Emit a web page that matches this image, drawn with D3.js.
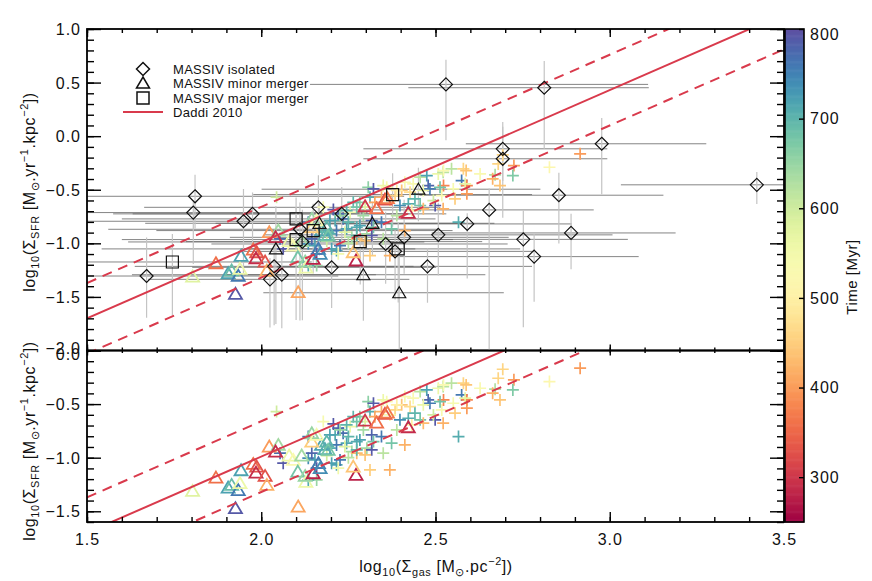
<!DOCTYPE html>
<html>
<head>
<meta charset="utf-8">
<script src="https://cdn.jsdelivr.net/npm/d3@7"></script>
<style>
body { margin: 0; background: #fff; }
text { font-family: "Liberation Sans", Arial, sans-serif; fill: #111; }
</style>
</head>
<body>
<div id="chart"></div>
<script>
// simulation snapshots, minor merger (triangles) : log gas, log sfr, time [Myr]
var triX = [1.803, 1.870, 1.905, 1.915, 1.934, 1.926, 1.942, 1.939, 1.977, 1.987,
    1.985, 2.011, 2.016, 2.023, 2.049, 2.041, 2.080, 2.092, 2.116, 2.105,
    2.128, 2.126, 2.149, 2.164, 2.169, 2.173, 2.183, 2.145, 2.106, 2.272,
    2.264, 2.298, 2.331, 2.355, 2.362, 2.422, 2.145, 2.159, 2.188, 2.192];
var triY = [-1.310, -1.186, -1.279, -1.254, -1.303, -1.471, -1.117, -1.238, -1.058, -1.083,
    -1.139, -1.170, -1.254, -0.896, -0.881, -0.943, -0.980, -1.021, -0.980, -1.130,
    -1.226, -1.170, -1.145, -1.051, -1.098, -0.881, -0.921, -0.850, -1.456, -1.160,
    -1.083, -0.654, -0.672, -0.591, -0.579, -0.716, -0.772, -0.787, -0.850, -0.927];
var triT = [580, 360, 720, 690, 760, 790, 720, 560, 360, 330,
    290, 330, 420, 400, 640, 290, 560, 530, 640, 680,
    560, 650, 280, 760, 740, 720, 710, 450, 410, 280,
    440, 300, 360, 330, 370, 290, 650, 540, 700, 680];

// simulation snapshots (crosses)
var crossX = [2.044, 2.178, 2.207, 2.221, 2.135, 2.054, 2.063, 2.154, 2.159, 2.216,
    2.212, 2.235, 2.255, 2.283, 2.298, 2.274, 2.245, 2.260, 2.274, 2.303,
    2.135, 2.145, 2.159, 2.202, 2.226, 2.221, 2.135, 2.197, 2.216, 2.307,
    2.322, 2.312, 2.350, 2.360, 2.403, 2.412, 2.436, 2.456, 2.475, 2.479,
    2.484, 2.508, 2.522, 2.546, 2.580, 2.575, 2.590, 2.590, 2.556, 2.518,
    2.499, 2.522, 2.456, 2.422, 2.398, 2.384, 2.369, 2.345, 2.326, 2.293,
    2.317, 2.322, 2.283, 2.317, 2.350, 2.374, 2.412, 2.345, 2.312, 2.369,
    2.566, 2.915, 2.693, 2.680, 2.725, 2.827, 2.628, 2.671, 2.722, 2.664,
    2.685, 2.588, 2.585, 2.551, 2.523, 2.523, 2.513, 2.264, 2.274, 2.226,
    2.245, 2.197, 2.250, 2.240, 2.274, 2.298, 2.389, 2.427, 2.465, 2.441,
    2.494, 2.465, 2.389, 2.432, 2.188, 2.250];
var crossY = [-0.570, -0.663, -0.685, -0.725, -0.803, -0.958, -1.051, -1.021, -1.207, -1.067,
    -0.787, -0.771, -0.710, -0.617, -0.663, -0.850, -0.865, -0.943, -0.958, -0.911,
    -1.005, -0.958, -1.098, -1.051, -1.021, -1.098, -1.207, -0.911, -0.881, -0.477,
    -0.492, -0.570, -0.461, -0.477, -0.507, -0.430, -0.445, -0.383, -0.368, -0.461,
    -0.492, -0.352, -0.337, -0.305, -0.305, -0.414, -0.461, -0.538, -0.585, -0.554,
    -0.647, -0.678, -0.647, -0.632, -0.647, -0.554, -0.601, -0.570, -0.617, -0.741,
    -0.787, -0.850, -0.834, -0.927, -0.958, -0.865, -0.881, -0.803, -1.114, -1.114,
    -0.803, -0.165, -0.175, -0.259, -0.274, -0.290, -0.352, -0.361, -0.368, -0.398,
    -0.461, -0.321, -0.445, -0.492, -0.461, -0.321, -0.477, -0.617, -0.663, -0.741,
    -0.694, -0.787, -0.803, -0.896, -0.927, -0.974, -0.507, -0.523, -0.507, -0.585,
    -0.601, -0.678, -0.741, -0.694, -0.980, -1.000];
var crossT = [600, 540, 790, 780, 760, 770, 790, 720, 650, 720,
    710, 770, 560, 660, 580, 710, 720, 640, 430, 640,
    740, 780, 790, 720, 760, 550, 710, 710, 760, 660,
    790, 710, 560, 540, 440, 530, 530, 620, 720, 780,
    760, 560, 620, 620, 460, 760, 380, 400, 450, 530,
    790, 420, 680, 710, 740, 460, 540, 420, 410, 640,
    780, 680, 720, 790, 620, 680, 420, 760, 450, 420,
    710, 400, 460, 460, 400, 520, 530, 630, 670, 420,
    440, 440, 570, 540, 380, 530, 680, 700, 680, 650,
    700, 720, 700, 580, 700, 440, 500, 470, 560, 700,
    600, 430, 620, 500, 600, 620];

// MASSIV isolated (diamonds) with asymmetric errors
var isoX = [1.671, 1.810, 1.805, 1.949, 1.975, 2.164, 2.111, 2.118, 2.037, 2.025,
    2.059, 2.231, 2.202, 2.357, 2.384, 2.410, 2.477, 2.508, 2.530, 2.812,
    2.693, 2.693, 2.977, 3.422, 2.854, 2.654, 2.591, 2.752, 2.889, 2.783];
var isoY = [-1.305, -0.561, -0.713, -0.794, -0.725, -0.664, -0.869, -0.987, -1.215, -1.336,
    -1.293, -0.725, -1.224, -1.006, -1.075, -0.944, -1.215, -0.921, 0.483, 0.452,
    -0.118, -0.211, -0.071, -0.454, -0.551, -0.688, -0.819, -0.963, -0.903, -1.124];
var isoXlo = [0.45, 0.35, 0.40, 0.45, 0.40, 0.50, 0.55, 0.50, 0.40, 0.35,
    0.43, 0.60, 0.40, 0.50, 0.45, 0.50, 0.45, 0.50, 0.39, 0.39,
    0.40, 0.40, 0.39, 0.39, 0.40, 0.45, 0.45, 0.40, 0.40, 0.40];
var isoXhi = [0.55, 0.60, 0.50, 0.40, 0.45, 0.35, 0.40, 0.35, 0.40, 0.40,
    0.27, 0.30, 0.30, 0.35, 0.40, 0.30, 0.30, 0.50, 0.58, 0.30,
    0.30, 0.30, 0.30, 0.40, 0.30, 0.30, 0.30, 0.30, 0.30, 0.30];
var isoYhi = [0.36, 0.20, 0.10, 0.30, 0.20, 0.30, 0.25, 0.30, 0.30, 0.20,
    0.25, 0.25, 0.15, 0.30, 0.20, 0.35, 0.17, 0.30, 0.23, 0.25,
    0.25, 0.30, 0.24, 0.12, 0.21, 0.20, 0.10, 0.27, 0.18, 0.21];
var isoYlo = [0.39, 0.30, 0.48, 0.50, 0.30, 0.40, 0.85, 0.73, 0.55, 0.45,
    0.50, 0.35, 0.38, 0.37, 0.45, 0.34, 0.34, 0.38, 0.52, 0.57,
    0.30, 0.55, 0.47, 0.18, 0.45, 1.40, 0.51, 0.82, 0.34, 0.42];

// MASSIV minor merger (triangles)
var minX = [2.167, 2.042, 2.319, 2.293, 2.396, 2.451];
var minY = [-0.813, -1.052, -0.813, -1.293, -1.461, -0.495];
var minXlo = [0.50, 0.50, 0.45, 0.40, 0.39, 0.45];
var minXhi = [0.40, 0.40, 0.35, 0.35, 0.30, 0.35];
var minYhi = [0.20, 0.40, 0.20, 0.30, 0.40, 0.20];
var minYlo = [0.30, 0.70, 0.30, 0.43, 0.60, 0.30];

// MASSIV major merger (squares)
var majX = [1.745, 2.100, 2.100, 2.149, 2.284, 2.377, 2.393];
var majY = [-1.174, -0.772, -0.965, -0.881, -0.984, -0.545, -1.052];
var majXlo = [0.30, 0.50, 0.50, 0.45, 0.50, 0.40, 0.45];
var majXhi = [0.40, 0.40, 0.45, 0.40, 0.35, 0.40, 0.35];
var majYhi = [0.26, 0.20, 0.30, 0.25, 0.30, 0.20, 0.25];
var majYlo = [0.50, 0.30, 0.75, 0.40, 0.40, 0.30, 0.50];

// Daddi 2010 relation
var daddiSlope = 1.42, daddiZero = -3.83, daddiScatter = 0.33;

var xTicks = [1.5, 2.0, 2.5, 3.0, 3.5];
var topTicks = [-2.0, -1.5, -1.0, -0.5, 0.0, 0.5, 1.0];
var botTicks = [-1.5, -1.0, -0.5, 0.0];
var timeTicks = [300, 400, 500, 600, 700, 800];
var legendLabels = ["MASSIV isolated", "MASSIV minor merger", "MASSIV major merger", "Daddi 2010"];

var width = 872, height = 581;
var plotLeft = 87, plotRight = 784;
var red = "#d93a4c";

var svg = d3.select("#chart").append("svg")
    .attr("width", width)
    .attr("height", height);

var x = d3.scaleLinear().domain([1.5, 3.5]).range([plotLeft, plotRight]);
var timeColor = function(t){ return d3.interpolateSpectral((t - 250) / 550); };

var shapes = {
    diamond: "M0,-6.5L6.5,0L0,6.5L-6.5,0Z",
    triangle: "M0,-6L6.5,5L-6.5,5Z",
    square: "M-6,-6H6V6H-6Z",
    cross: "M-6,0H6M0,-6V6"
};

function zipPoints(xs, ys, ts){
    return xs.map(function(d, i){ return { x: d, y: ys[i], t: ts ? ts[i] : null }; });
}
function zipErrors(xs, ys, xlo, xhi, yhi, ylo){
    return xs.map(function(d, i){
        return { x: d, y: ys[i], xlo: xlo[i], xhi: xhi[i], yhi: yhi[i], ylo: ylo[i] };
    });
}

var triangles = zipPoints(triX, triY, triT);
var crosses = zipPoints(crossX, crossY, crossT);
var massiv = [
    { shape: "diamond", data: zipErrors(isoX, isoY, isoXlo, isoXhi, isoYhi, isoYlo) },
    { shape: "triangle", data: zipErrors(minX, minY, minXlo, minXhi, minYhi, minYlo) },
    { shape: "square", data: zipErrors(majX, majY, majXlo, majXhi, majYhi, majYlo) }
];

// small helper for sub/superscripts
function richText(sel, parts, size){
    var shift = 0;
    parts.forEach(function(p){
        var target = p[1] === "sub" ? 4 : (p[1] === "sup" ? -7 : 0);
        sel.append("tspan")
            .attr("dy", target - shift)
            .attr("font-size", p[1] ? size * 0.68 : size)
            .text(p[0]);
        shift = target;
    });
}

Panel = function(_opts){
    this.opts = _opts;
    this.initVis();
};

Panel.prototype.initVis = function(){
    var vis = this;
    var o = vis.opts;

    vis.y = d3.scaleLinear().domain(o.yDomain).range([o.bottom, o.top]);

    svg.append("clipPath").attr("id", o.id + "-clip")
        .append("rect")
        .attr("x", plotLeft).attr("y", o.top)
        .attr("width", plotRight - plotLeft).attr("height", o.bottom - o.top);

    vis.g = svg.append("g").attr("clip-path", "url(#" + o.id + "-clip)");

    if (o.showMassiv) vis.drawErrors();
    vis.drawSims();
    vis.drawDaddi();
    if (o.showMassiv) vis.drawMassiv();
    vis.drawAxes();
};

Panel.prototype.drawErrors = function(){
    var vis = this;
    var all = [];
    massiv.forEach(function(m){ all = all.concat(m.data); });

    vis.g.selectAll(".xerr").data(all).enter().append("line")
        .attr("class", "xerr")
        .attr("x1", d => x(d.x - d.xlo)).attr("x2", d => x(d.x + d.xhi))
        .attr("y1", d => vis.y(d.y)).attr("y2", d => vis.y(d.y))
        .attr("stroke", "#666").attr("stroke-width", 0.8);

    vis.g.selectAll(".yerr").data(all).enter().append("line")
        .attr("class", "yerr")
        .attr("x1", d => x(d.x)).attr("x2", d => x(d.x))
        .attr("y1", d => vis.y(d.y + d.yhi)).attr("y2", d => vis.y(d.y - d.ylo))
        .attr("stroke", "#c4c4c4").attr("stroke-width", 1.2);
};

Panel.prototype.drawSims = function(){
    var vis = this;
    vis.g.selectAll(".cross").data(crosses).enter().append("path")
        .attr("class", "cross")
        .attr("d", shapes.cross)
        .attr("transform", d => "translate(" + x(d.x) + "," + vis.y(d.y) + ")")
        .attr("fill", "none")
        .attr("stroke", d => timeColor(d.t))
        .attr("stroke-width", 1.7);

    vis.g.selectAll(".simtri").data(triangles).enter().append("path")
        .attr("class", "simtri")
        .attr("d", shapes.triangle)
        .attr("transform", d => "translate(" + x(d.x) + "," + vis.y(d.y) + ")")
        .attr("fill", "none")
        .attr("stroke", d => timeColor(d.t))
        .attr("stroke-width", 1.8);
};

Panel.prototype.drawDaddi = function(){
    var vis = this;
    var ends = [1.5, 3.5];
    [0, daddiScatter, -daddiScatter].forEach(function(off){
        var line = d3.line()
            .x(d => x(d))
            .y(d => vis.y(daddiSlope * d + daddiZero + off));
        vis.g.append("path")
            .attr("d", line(ends))
            .attr("fill", "none")
            .attr("stroke", red)
            .attr("stroke-width", 2)
            .attr("stroke-dasharray", off === 0 ? null : "10,7");
    });
};

Panel.prototype.drawMassiv = function(){
    var vis = this;
    massiv.forEach(function(m){
        vis.g.selectAll(".m-" + m.shape).data(m.data).enter().append("path")
            .attr("class", "m-" + m.shape)
            .attr("d", shapes[m.shape])
            .attr("transform", d => "translate(" + x(d.x) + "," + vis.y(d.y) + ")")
            .attr("fill", "none")
            .attr("stroke", "#111")
            .attr("stroke-width", 1.2);
    });
};

Panel.prototype.drawAxes = function(){
    var vis = this;
    var o = vis.opts;
    var d0 = o.yDomain;
    var yMinor = d3.range(Math.ceil(d0[0] * 10 - 1e-6), Math.floor(d0[1] * 10 + 1e-6) + 1).map(i => i / 10);
    var xMinor = d3.range(15, 36).map(i => i / 10);

    function tidy(sel){
        sel.select(".domain").remove();
        sel.selectAll("line").attr("stroke", "#000").attr("stroke-width", 1.4);
        sel.selectAll("text")
            .attr("font-size", 16)
            .attr("letter-spacing", 1)
            .attr("fill", "#111");
    }

    var ax = svg.append("g");
    // left, with the end labels nudged like the original (-2.0 / 0.0 share the seam)
    ax.append("g").attr("transform", "translate(" + plotLeft + ",0)")
        .call(d3.axisLeft(vis.y).tickValues(o.yMajor).tickSize(-14).tickPadding(6).tickFormat(d3.format(".1f")))
        .call(tidy)
        .selectAll("text")
        .attr("dy", d => (d === o.seamValue ? o.seamShift : 0) + 5.5);
    ax.append("g").attr("transform", "translate(" + plotLeft + ",0)")
        .call(d3.axisLeft(vis.y).tickValues(yMinor).tickSize(-7).tickFormat(""))
        .call(tidy);
    // right
    ax.append("g").attr("transform", "translate(" + plotRight + ",0)")
        .call(d3.axisRight(vis.y).tickValues(o.yMajor).tickSize(-14).tickFormat(""))
        .call(tidy);
    ax.append("g").attr("transform", "translate(" + plotRight + ",0)")
        .call(d3.axisRight(vis.y).tickValues(yMinor).tickSize(-7).tickFormat(""))
        .call(tidy);
    // top edge
    ax.append("g").attr("transform", "translate(0," + o.top + ")")
        .call(d3.axisTop(x).tickValues(xTicks).tickSize(-o.topTick).tickFormat(""))
        .call(tidy);
    ax.append("g").attr("transform", "translate(0," + o.top + ")")
        .call(d3.axisTop(x).tickValues(xMinor).tickSize(-o.topTick / 2).tickFormat(""))
        .call(tidy);
    // bottom edge
    ax.append("g").attr("transform", "translate(0," + o.bottom + ")")
        .call(d3.axisBottom(x).tickValues(xTicks).tickSize(-o.bottomTick).tickPadding(12)
            .tickFormat(o.showXLabels ? d3.format(".1f") : ""))
        .call(tidy);
    ax.append("g").attr("transform", "translate(0," + o.bottom + ")")
        .call(d3.axisBottom(x).tickValues(xMinor).tickSize(-o.bottomTick / 2).tickFormat(""))
        .call(tidy);

    ax.append("rect")
        .attr("x", plotLeft).attr("y", o.top)
        .attr("width", plotRight - plotLeft).attr("height", o.bottom - o.top)
        .attr("fill", "none").attr("stroke", "#000").attr("stroke-width", 1.8);

    // y title
    var t = svg.append("text")
        .attr("transform", "translate(35," + o.titleY + ") rotate(-90)")
        .attr("text-anchor", "middle")
        .attr("letter-spacing", 0.6);
    richText(t, [["log"], ["10", "sub"], ["(Σ"], ["SFR", "sub"], [" [M"], ["⊙", "sub"], [".yr"],
        ["−1", "sup"], [".kpc"], ["−2", "sup"], ["])"]], 16);
};

var bottomPanel = new Panel({ id: "bot", yDomain: [-1.6, 0], top: 350.5, bottom: 522,
    yMajor: botTicks, showMassiv: false, topTick: 5, bottomTick: 10, showXLabels: true,
    titleY: 441, seamValue: 0, seamShift: 3 });
var topPanel = new Panel({ id: "top", yDomain: [-2, 1], top: 29, bottom: 350.5,
    yMajor: topTicks, showMassiv: true, topTick: 8, bottomTick: 6, showXLabels: false,
    titleY: 192, seamValue: -2, seamShift: -3 });

// x title
var xt = svg.append("text")
    .attr("x", 436).attr("y", 572)
    .attr("text-anchor", "middle")
    .attr("letter-spacing", 0.6);
richText(xt, [["log"], ["10", "sub"], ["(Σ"], ["gas", "sub"], [" [M"], ["⊙", "sub"], [".pc"],
    ["−2", "sup"], ["])"]], 16);

// legend
var legend = svg.append("g");
var legendY = [69, 83, 98, 112];
legendLabels.forEach(function(lab, i){
    if (i < 3) {
        legend.append("path")
            .attr("d", shapes[massiv[i].shape])
            .attr("transform", "translate(143," + legendY[i] + ")")
            .attr("fill", "none").attr("stroke", "#111").attr("stroke-width", 1.5);
    } else {
        legend.append("line")
            .attr("x1", 123).attr("x2", 163)
            .attr("y1", legendY[i]).attr("y2", legendY[i])
            .attr("stroke", red).attr("stroke-width", 2);
    }
    legend.append("text")
        .attr("x", 173).attr("y", legendY[i]).attr("dy", "0.35em")
        .attr("font-size", 13)
        .attr("letter-spacing", 0.3)
        .text(lab);
});

// colour bar
var cbLeft = 785, cbRight = 804;
var cbar = d3.scaleLinear().domain([250, 800]).range([522, 29]);
var cb = svg.append("g");
cb.selectAll("rect.step").data(d3.range(250, 800, 1)).enter().append("rect")
    .attr("class", "step")
    .attr("x", cbLeft).attr("width", cbRight - cbLeft)
    .attr("y", d => cbar(d + 1)).attr("height", d => cbar(d) - cbar(d + 1) + 0.6)
    .attr("fill", d => timeColor(d + 0.5));
cb.append("rect")
    .attr("x", cbLeft).attr("y", 29)
    .attr("width", cbRight - cbLeft).attr("height", 522 - 29)
    .attr("fill", "none").attr("stroke", "#000").attr("stroke-width", 1.6);
var cbAxis = cb.append("g").attr("transform", "translate(" + cbRight + ",0)")
    .call(d3.axisRight(cbar).tickValues(timeTicks).tickSize(-5).tickPadding(6));
cbAxis.select(".domain").remove();
cbAxis.selectAll("line").attr("stroke", "#000").attr("stroke-width", 1.4);
cbAxis.selectAll("text").attr("font-size", 16).attr("letter-spacing", 1).attr("fill", "#111")
    .attr("dy", d => d === 800 ? "0.65em" : "0.32em");

svg.append("text")
    .attr("transform", "translate(857,277) rotate(-90)")
    .attr("text-anchor", "middle")
    .attr("font-size", 15)
    .attr("letter-spacing", 0.5)
    .text("Time [Myr]");
</script>
</body>
</html>
